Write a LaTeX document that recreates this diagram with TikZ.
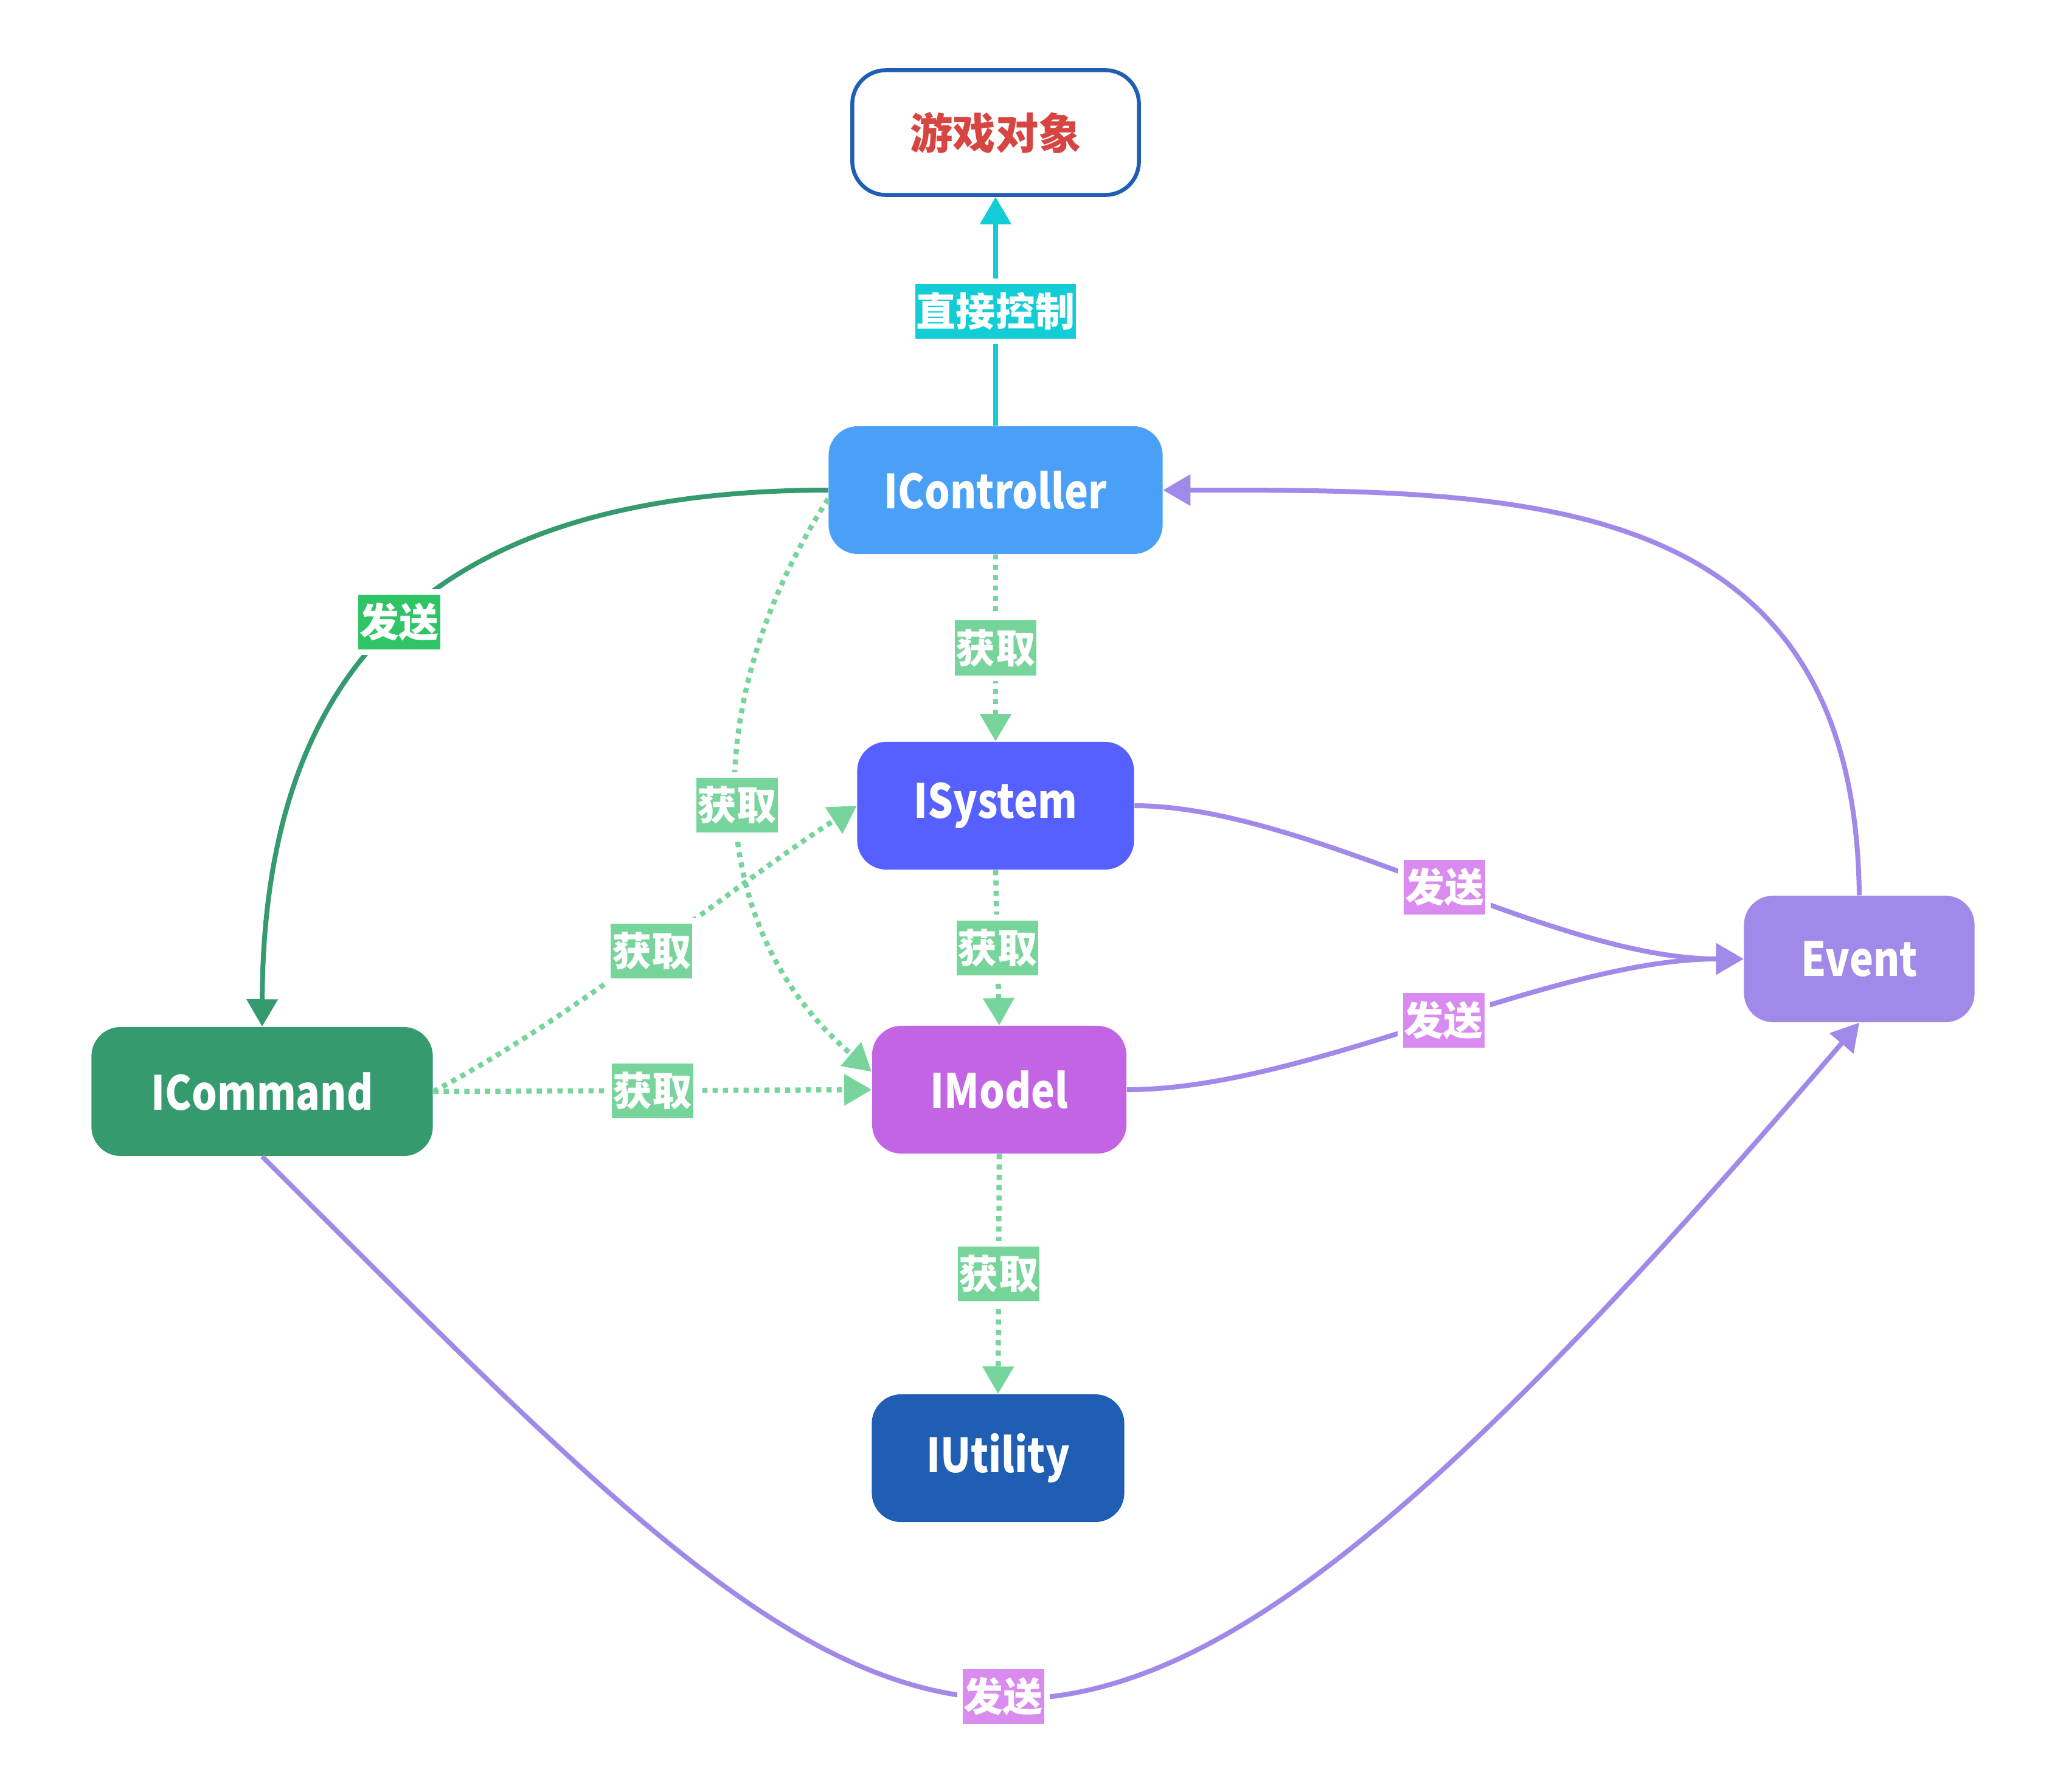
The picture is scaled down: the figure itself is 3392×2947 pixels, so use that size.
\documentclass[tikz,border=0pt]{standalone}
\usepackage{fontspec}
\setmainfont{Noto Sans CJK SC}
\newfontfamily\boxfont{Noto Sans CJK SC}[FakeStretch=0.85]
\usetikzlibrary{arrows.meta}

% node fills
\definecolor{ctrlblue}{HTML}{4AA0F6}
\definecolor{sysblue}{HTML}{5560FE}
\definecolor{modelpurple}{HTML}{C364E5}
\definecolor{utilblue}{HTML}{1F5EB3}
\definecolor{cmdgreen}{HTML}{369A6F}
\definecolor{eventpurple}{HTML}{A089E8}
\definecolor{objred}{HTML}{D64541}
% connector and label colours
\definecolor{cyanline}{HTML}{13CDD6}
\definecolor{getgreen}{HTML}{77D59B}
\definecolor{sendgreen}{HTML}{2FC466}
\definecolor{sendpurple}{HTML}{D98BEF}

\begin{document}
\begin{tikzpicture}[x=0.01cm, y=-0.01cm,
  box/.style={rounded corners=0.48cm, minimum height=2.10cm, inner sep=0pt,
    text=white, font=\boxfont\fontsize{22}{26}\selectfont\bfseries},
  lbl/.style={solid, inner xsep=0.02cm, inner ysep=0pt, minimum height=0.9cm,
    text=white, font=\fontsize{18.5}{20}\selectfont\bfseries,
    preaction={draw=white, solid, line width=0.18cm}},
  link/.style={line width=0.08cm, -{Triangle[length=0.45cm, width=0.5cm]}},
  ctrllink/.style={link, draw=cyanline},
  cmdlink/.style={link, draw=cmdgreen},
  getlink/.style={link, line width=0.085cm, draw=getgreen, dash pattern=on 0.085cm off 0.085cm},
  evlink/.style={link, draw=eventpurple},
  getlbl/.style={lbl, fill=getgreen},
  evlbl/.style={lbl, fill=sendpurple},
]
\useasboundingbox (0,0) rectangle (3392,2947);

% components
\node[draw=utilblue, line width=0.065cm, rounded corners=0.55cm, fill=white,
      minimum width=4.71cm, minimum height=2.05cm, text=objred,
      font=\fontsize{20}{24}\selectfont\bfseries] (obj) at (1637,218) {游戏对象};
\node[box, fill=ctrlblue, minimum width=5.49cm] (ctrl) at (1637,806) {IController};
\node[box, fill=sysblue, minimum width=4.55cm] (sys) at (1637,1325) {ISystem};
\node[box, fill=modelpurple, minimum width=4.18cm] (model) at (1643,1792) {IModel};
\node[box, fill=utilblue, minimum width=4.15cm] (util) at (1641,2398) {IUtility};
\node[box, fill=cmdgreen, minimum width=5.61cm, minimum height=2.12cm] (cmd) at (431,1795) {ICommand};
\node[box, fill=eventpurple, minimum width=3.79cm, minimum height=2.08cm] (event) at (3057,1577) {Event};

% controller drives the game object and sends commands
\draw[ctrllink] (ctrl.north) -- node[lbl, fill=cyanline] {直接控制} (obj.south);
\draw[cmdlink] (ctrl.west) .. controls (720,806) and (433,1090) ..
  node[lbl, fill=sendgreen] {发送} (cmd.north);

% dependency lookups
\draw[getlink] (ctrl.south) -- node[getlbl] {获取} (sys.north);
\draw[getlink] (ctrl.183) .. controls (1150,1150) and (1150,1520) ..
  node[getlbl] {获取} (model.172);
\draw[getlink] (cmd.east) .. controls (950,1670) and (1200,1460) ..
  node[getlbl] {获取} (sys.west);
\draw[getlink] (cmd.east) -- node[getlbl] {获取} (model.west);
\draw[getlink] (sys.south) -- node[getlbl] {获取} (model.north);
\draw[getlink] (model.south) -- node[getlbl] {获取} (util.north);

% events
\draw[evlink] (sys.east) .. controls (2150,1325) and (2550,1577) ..
  node[evlbl, pos=0.52] {发送} (event.west);
\draw[evlink] (model.east) .. controls (2150,1792) and (2550,1577) ..
  node[evlbl, pos=0.52] {发送} (event.west);
\draw[evlink] (event.north) .. controls (3050,800) and (2500,806) .. (ctrl.east);
\draw[evlink] (cmd.south) .. controls (1524,2992) and (1713,3253) ..
  node[evlbl] {发送} (event.south);
\end{tikzpicture}
\end{document}
